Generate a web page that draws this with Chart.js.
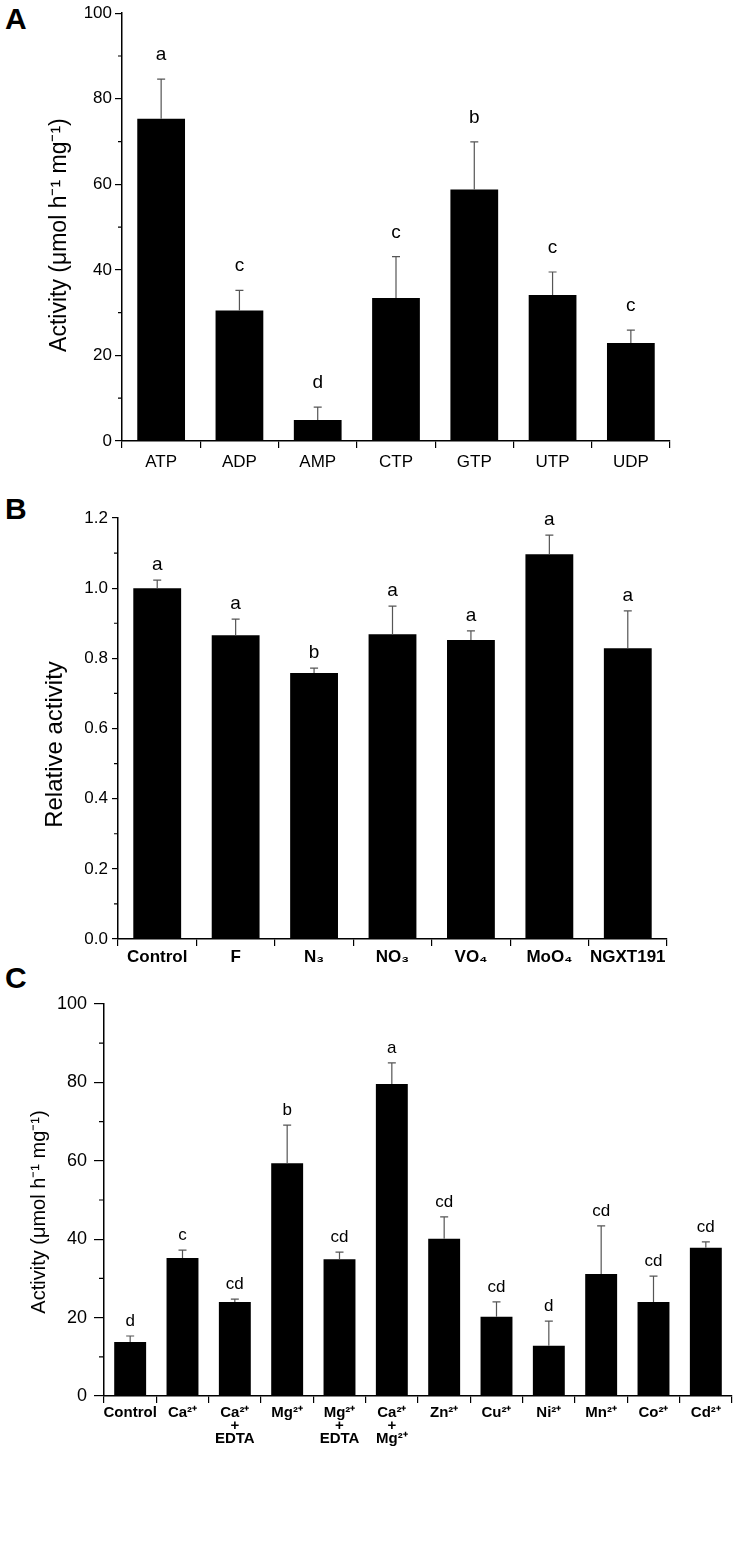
<!DOCTYPE html>
<html>
<head>
<meta charset="utf-8">
<script src="https://cdn.jsdelivr.net/npm/chart.js@4.4.1/dist/chart.umd.min.js"></script>
<style>
  body { margin: 0; background: #fff; width: 753px; height: 1542px; position: relative; overflow: hidden;
         font-family: "Liberation Sans", Arial, sans-serif; }
  canvas { position: absolute; left: 0; }
  .panel { position: absolute; left: 5px; font-weight: bold; font-size: 30px; line-height: 1; }
</style>
</head>
<body>
<div class="panel" style="top:4px">A</div>
<div class="panel" style="top:494px">B</div>
<div class="panel" style="top:963px">C</div>
<canvas id="chartA" width="753" height="480" style="top:0"></canvas>
<canvas id="chartB" width="753" height="490" style="top:480px"></canvas>
<canvas id="chartC" width="753" height="520" style="top:970px"></canvas>
<script>
// ---- A: nucleotide substrates ----
const labelsA = ['ATP', 'ADP', 'AMP', 'CTP', 'GTP', 'UTP', 'UDP'];
const valuesA = [75.3, 30.5, 4.9, 33.4, 58.8, 34.1, 22.9];
const errorsA = [9.3, 4.7, 3.0, 9.7, 11.1, 5.4, 3.0];
const lettersA = ['a', 'c', 'd', 'c', 'b', 'c', 'c'];
const ticksA = [0, 20, 40, 60, 80, 100];

// ---- B: inhibitors ----
const labelsB = ['Control', 'F', 'N₃', 'NO₃', 'VO₄', 'MoO₄', 'NGXT191'];
const valuesB = [1.0, 0.866, 0.758, 0.869, 0.852, 1.097, 0.829];
const errorsB = [0.023, 0.046, 0.014, 0.080, 0.026, 0.054, 0.106];
const lettersB = ['a', 'a', 'b', 'a', 'a', 'a', 'a'];
const ticksB = [0, 0.2, 0.4, 0.6, 0.8, 1.0, 1.2];

// ---- C: cations ----
const labelsC = ['Control', 'Ca²⁺', ['Ca²⁺', '+', 'EDTA'], 'Mg²⁺', ['Mg²⁺', '+', 'EDTA'], ['Ca²⁺', '+', 'Mg²⁺'],
                 'Zn²⁺', 'Cu²⁺', 'Ni²⁺', 'Mn²⁺', 'Co²⁺', 'Cd²⁺'];
const valuesC = [13.8, 35.2, 24.0, 59.4, 34.9, 79.6, 40.1, 20.2, 12.8, 31.1, 24.0, 37.8];
const errorsC = [1.5, 2.0, 0.7, 9.7, 1.8, 5.4, 5.6, 3.8, 6.3, 12.3, 6.6, 1.5];
const lettersC = ['d', 'c', 'cd', 'b', 'cd', 'a', 'cd', 'cd', 'd', 'cd', 'cd', 'cd'];
const ticksC = [0, 20, 40, 60, 80, 100];

const FONT = '"Liberation Sans", Arial, sans-serif';

// upper error bars + significance letters
const errPlugin = {
    id: 'errLetters',
    afterDatasetsDraw(chart, args, o) {
        const { ctx, scales: { y } } = chart;
        const vals = chart.data.datasets[0].data;
        ctx.save();
        chart.getDatasetMeta(0).data.forEach((bar, i) => {
            const top = y.getPixelForValue(vals[i] + o.errors[i]);
            ctx.strokeStyle = '#555';
            ctx.lineWidth = 1.2;
            ctx.beginPath();
            ctx.moveTo(bar.x, bar.y);
            ctx.lineTo(bar.x, top);
            ctx.moveTo(bar.x - o.cap, top);
            ctx.lineTo(bar.x + o.cap, top);
            ctx.stroke();
            ctx.fillStyle = '#000';
            ctx.font = o.font;
            ctx.textAlign = 'center';
            ctx.textBaseline = 'alphabetic';
            ctx.fillText(o.letters[i], bar.x, top - o.gap);
        });
        ctx.restore();
    }
};

// short minor ticks halfway between the labelled ones
const minorPlugin = {
    id: 'minorTicks',
    afterDraw(chart, args, o) {
        const { ctx, chartArea, scales: { y } } = chart;
        ctx.save();
        ctx.strokeStyle = '#000';
        ctx.lineWidth = 1.2;
        ctx.beginPath();
        for (let i = 0; i < y.ticks.length - 1; i++) {
            const py = y.getPixelForValue((y.ticks[i].value + y.ticks[i + 1].value) / 2);
            ctx.moveTo(chartArea.left - o.len, py);
            ctx.lineTo(chartArea.left, py);
        }
        ctx.stroke();
        ctx.restore();
    }
};

// rotated y axis title
const titlePlugin = {
    id: 'yTitle',
    afterDraw(chart, args, o) {
        const { ctx, chartArea } = chart;
        ctx.save();
        ctx.translate(o.x, (chartArea.top + chartArea.bottom) / 2 + o.dy);
        ctx.rotate(-Math.PI / 2);
        ctx.font = o.font;
        ctx.fillStyle = '#000';
        ctx.textAlign = 'center';
        ctx.textBaseline = 'middle';
        ctx.fillText(o.text, 0, 0);
        ctx.restore();
    }
};

function panelChart(id, p) {
    return new Chart(document.getElementById(id), {
        type: 'bar',
        data: {
            labels: p.labels,
            datasets: [{
                data: p.values,
                backgroundColor: '#000',
                categoryPercentage: 1,
                barPercentage: 0.61
            }]
        },
        options: {
            responsive: false,
            animation: false,
            layout: { padding: { left: 0, right: p.right, top: p.top, bottom: 0 } },
            plugins: {
                legend: { display: false },
                tooltip: { enabled: false },
                errLetters: { errors: p.errors, letters: p.letters, font: p.letterFont, gap: p.gap, cap: 4 },
                minorTicks: { len: p.minorLen },
                yTitle: { text: p.title, font: p.titleFont, x: p.titleX, dy: p.titleDy }
            },
            scales: {
                x: {
                    grid: { offset: true, drawOnChartArea: false, tickLength: 7, color: '#000', lineWidth: 1.2 },
                    border: { color: '#000', width: 1.5 },
                    ticks: { color: '#000', font: p.xFont, padding: p.xPad, maxRotation: 0, autoSkip: false },
                    afterFit: s => { s.height = p.xHeight; }
                },
                y: {
                    min: p.ticks[0],
                    max: p.ticks[p.ticks.length - 1],
                    afterBuildTicks: s => { s.ticks = p.ticks.map(v => ({ value: v })); },
                    ticks: { color: '#000', font: { family: FONT, size: p.yFontSize }, padding: p.yPad, callback: p.fmt },
                    grid: { drawOnChartArea: false, tickLength: p.majorLen, color: '#000', lineWidth: 1.2 },
                    border: { color: '#000', width: 1.5 },
                    afterFit: s => { s.width = p.yWidth; }
                }
            }
        },
        plugins: [errPlugin, minorPlugin, titlePlugin]
    });
}

panelChart('chartA', {
    labels: labelsA, values: valuesA, errors: errorsA, letters: lettersA, ticks: ticksA,
    fmt: v => String(v),
    right: 83, top: 12, xHeight: 39, yWidth: 122,
    xFont: { family: FONT, size: 17 }, xPad: 4,
    yFontSize: 17, yPad: 3, majorLen: 7, minorLen: 4,
    letterFont: '19px ' + FONT, gap: 19,
    title: 'Activity (μmol h⁻¹ mg⁻¹)', titleFont: '23px ' + FONT, titleX: 60, titleDy: 8
});

panelChart('chartB', {
    labels: labelsB, values: valuesB, errors: errorsB, letters: lettersB, ticks: ticksB,
    fmt: v => v.toFixed(1),
    right: 86, top: 38, xHeight: 31, yWidth: 118,
    xFont: { family: FONT, size: 17, weight: 'bold' }, xPad: 1,
    yFontSize: 17, yPad: 4, majorLen: 6, minorLen: 4,
    letterFont: '19px ' + FONT, gap: 10,
    title: 'Relative activity', titleFont: '24px ' + FONT, titleX: 55, titleDy: 16
});

panelChart('chartC', {
    labels: labelsC, values: valuesC, errors: errorsC, letters: lettersC, ticks: ticksC,
    fmt: v => String(v),
    right: 21, top: 34, xHeight: 94, yWidth: 104,
    xFont: { family: FONT, size: 15, weight: 'bold', lineHeight: '13px' }, xPad: 3,
    yFontSize: 18, yPad: 7, majorLen: 10, minorLen: 5,
    letterFont: '17px ' + FONT, gap: 10,
    title: 'Activity (μmol h⁻¹ mg⁻¹)', titleFont: '20px ' + FONT, titleX: 39, titleDy: 12
});
</script>
</body>
</html>
